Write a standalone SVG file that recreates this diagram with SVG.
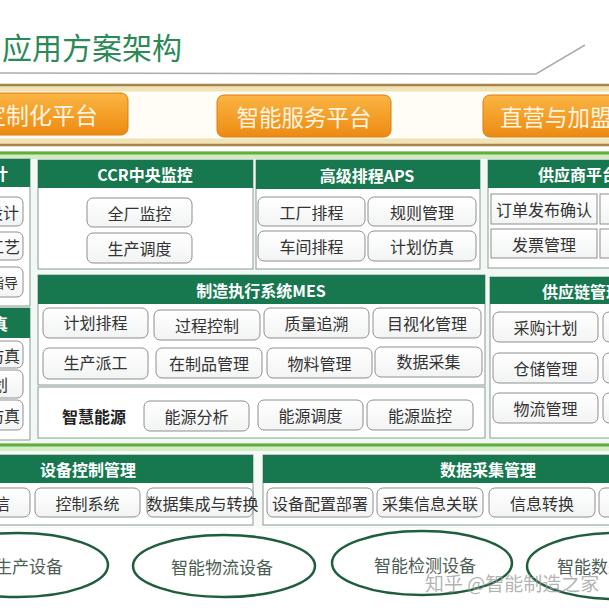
<svg xmlns="http://www.w3.org/2000/svg" width="609" height="608" viewBox="0 0 609 608">
<defs>
<linearGradient id="og" x1="0" y1="0" x2="0" y2="1">
<stop offset="0" stop-color="#fbb543"/>
<stop offset="1" stop-color="#ec8a12"/>
</linearGradient>
<linearGradient id="ig" x1="0" y1="0" x2="0" y2="1">
<stop offset="0" stop-color="#ffffff"/>
<stop offset="1" stop-color="#f2f4f3"/>
</linearGradient>
<style>
text{font-family:"Noto Sans CJK SC","Liberation Sans",sans-serif}
.panel{fill:#ffffff;stroke:#8c9a92;stroke-width:1}
.hdr{fill:#17774f}
.item{fill:url(#ig);stroke:#8e8e8e;stroke-width:1}
.ht{font-size:16px;font-weight:bold;fill:#ffffff;text-anchor:middle;dominant-baseline:central}
.it{font-size:16px;fill:#333333;text-anchor:middle;dominant-baseline:central}
.end{text-anchor:end}
.start{text-anchor:start}
.orange{fill:url(#og);stroke:#d97e0e;stroke-width:1}
.ot{font-size:22.5px;fill:#fff6e2;dominant-baseline:central}
.gold{stroke:#a5844a;stroke-width:2.5;fill:none}
.goldglow{stroke:#f1e3b6;stroke-width:7;fill:none}
.green{stroke:#5fae3e;stroke-width:3;fill:none}
.greenglow{stroke:#d3ecc6;stroke-width:8;fill:none}
.ell{fill:#ffffff;stroke:#1e5e3d;stroke-width:2.5}
.et{font-size:17px;fill:#4a5d53;dominant-baseline:central}
</style>
</defs>
<rect x="0" y="0" width="609" height="608" fill="#ffffff"/>

<g id="title">
<text x="2" y="46" font-size="30" fill="#2c8a55" dominant-baseline="central">应用方案架构</text>
<polyline points="0,73 536,74 585,45" fill="none" stroke="#a9aeab" stroke-width="1.5"/>
</g>

<g id="platform-band">
<rect x="0" y="86" width="609" height="59" fill="#fffdf6"/>
<line class="goldglow" x1="0" y1="88" x2="609" y2="88"/>
<line class="goldglow" x1="0" y1="142" x2="609" y2="142"/>
<line class="gold" x1="0" y1="85" x2="609" y2="85"/>
<line class="gold" x1="0" y1="145" x2="609" y2="145"/>
</g>

<g id="p-custom">
<rect class="orange" x="-20" y="93" width="148" height="42" rx="7"/>
<text class="ot" x="-17" y="114" style="font-size:23px">定制化平台</text>
</g>
<g id="p-service">
<rect class="orange" x="217" y="95" width="174" height="42" rx="7"/>
<text class="ot" x="304" y="116" text-anchor="middle">智能服务平台</text>
</g>
<g id="p-franchise">
<rect class="orange" x="483" y="95" width="160" height="42" rx="7"/>
<text class="ot" x="500" y="116">直营与加盟</text>
</g>

<g id="bands">
<rect x="0" y="155" width="609" height="289" fill="#f2f8f4"/>
<line class="greenglow" x1="0" y1="155" x2="609" y2="155"/>
<line class="green" x1="0" y1="153" x2="609" y2="153"/>
<rect x="0" y="448" width="609" height="80" fill="#f6faf7"/>
<line class="greenglow" x1="0" y1="447" x2="609" y2="447"/>
<line class="green" x1="0" y1="445" x2="609" y2="445"/>
</g>

<g id="col-design">
<rect class="panel" x="-10" y="159" width="40" height="147"/>
<rect class="hdr" x="-10" y="159" width="40" height="28"/>
<text class="ht end" x="8" y="173">研发设计</text>
<rect class="item" x="-60" y="197" width="83" height="29" rx="6"/>
<text class="it end" x="19" y="211.5">产品设计</text>
<rect class="item" x="-60" y="232" width="83" height="28" rx="6"/>
<text class="it end" x="20" y="246">数字化工艺</text>
<rect class="item" x="-60" y="267" width="83" height="30" rx="6"/>
<text class="it end" x="18" y="282" style="font-size:14px">作业指导</text>
</g>

<g id="col-sim">
<rect class="panel" x="-10" y="308" width="40" height="132"/>
<rect class="hdr" x="-10" y="308" width="40" height="30"/>
<text class="ht end" x="8" y="323">虚拟仿真</text>
<rect class="item" x="-60" y="341" width="83" height="27" rx="6"/>
<text class="it end" x="20" y="354.5">工艺仿真</text>
<rect class="item" x="-60" y="370" width="83" height="28" rx="6"/>
<text class="it end" x="8" y="384">布局规划</text>
<rect class="item" x="-60" y="400" width="83" height="30" rx="6"/>
<text class="it end" x="20" y="415">物流仿真</text>
</g>

<g id="ccr">
<rect class="panel" x="38" y="160" width="215" height="109"/>
<rect class="hdr" x="38" y="160" width="215" height="28"/>
<text class="ht" x="145" y="174">CCR中央监控</text>
<rect class="item" x="87" y="198" width="105" height="29" rx="6"/>
<text class="it" x="139.5" y="212.5">全厂监控</text>
<rect class="item" x="87" y="233" width="105" height="30" rx="6"/>
<text class="it" x="139.5" y="248">生产调度</text>
</g>

<g id="aps">
<rect class="panel" x="256" y="160" width="224" height="109"/>
<rect class="hdr" x="256" y="160" width="224" height="29"/>
<text class="ht" x="367" y="174.5">高级排程APS</text>
<rect class="item" x="258" y="197" width="107" height="29" rx="6"/>
<text class="it" x="311.5" y="211.5">工厂排程</text>
<rect class="item" x="368" y="197" width="108" height="29" rx="6"/>
<text class="it" x="422" y="211.5">规则管理</text>
<rect class="item" x="258" y="231" width="107" height="30" rx="6"/>
<text class="it" x="311.5" y="246">车间排程</text>
<rect class="item" x="368" y="231" width="108" height="30" rx="6"/>
<text class="it" x="422" y="246">计划仿真</text>
</g>

<g id="supplier">
<rect class="panel" x="488" y="160" width="140" height="108"/>
<rect class="hdr" x="488" y="160" width="140" height="28"/>
<text class="ht start" x="538" y="174">供应商平台</text>
<rect class="item" x="491" y="194" width="106" height="30"/>
<text class="it" x="544" y="209">订单发布确认</text>
<rect class="item" x="600" y="194" width="40" height="30"/>
<rect class="item" x="491" y="229" width="106" height="29"/>
<text class="it" x="544" y="243.5">发票管理</text>
<rect class="item" x="600" y="229" width="40" height="29"/>
</g>

<g id="mes">
<rect class="panel" x="38" y="275" width="447" height="110"/>
<rect class="hdr" x="38" y="275" width="447" height="29"/>
<text class="ht" x="261" y="289.5">制造执行系统MES</text>
<rect class="item" x="43" y="308" width="105" height="30" rx="6"/>
<text class="it" x="95.5" y="322">计划排程</text>
<rect class="item" x="154" y="310" width="106" height="30" rx="6"/>
<text class="it" x="207" y="325">过程控制</text>
<rect class="item" x="264" y="308" width="105" height="30" rx="6"/>
<text class="it" x="316.5" y="323">质量追溯</text>
<rect class="item" x="373" y="308" width="108" height="30" rx="6"/>
<text class="it" x="427" y="323">目视化管理</text>
<rect class="item" x="43" y="348" width="105" height="31" rx="6"/>
<text class="it" x="95.5" y="362">生产派工</text>
<rect class="item" x="156" y="348" width="106" height="30" rx="6"/>
<text class="it" x="209" y="363">在制品管理</text>
<rect class="item" x="267" y="348" width="105" height="30" rx="6"/>
<text class="it" x="319.5" y="363">物料管理</text>
<rect class="item" x="375" y="347" width="107" height="30" rx="6"/>
<text class="it" x="428.5" y="361">数据采集</text>
</g>

<g id="energy">
<rect class="panel" x="38" y="387" width="447" height="51"/>
<text class="it" x="94" y="416" style="font-weight:bold;fill:#222222">智慧能源</text>
<rect class="item" x="144" y="401" width="105" height="30" rx="6"/>
<text class="it" x="196.5" y="416">能源分析</text>
<rect class="item" x="258" y="400" width="105" height="30" rx="6"/>
<text class="it" x="310.5" y="415">能源调度</text>
<rect class="item" x="367" y="400" width="106" height="30" rx="6"/>
<text class="it" x="420" y="415">能源监控</text>
</g>

<g id="supply-chain">
<rect class="panel" x="490" y="277" width="140" height="161"/>
<rect class="hdr" x="490" y="277" width="140" height="27"/>
<text class="ht start" x="542" y="290.5">供应链管理</text>
<rect class="item" x="493" y="312" width="105" height="30" rx="6"/>
<text class="it" x="545.5" y="327">采购计划</text>
<rect class="item" x="603" y="312" width="40" height="30" rx="6"/>
<rect class="item" x="493" y="353" width="105" height="30" rx="6"/>
<text class="it" x="545.5" y="368">仓储管理</text>
<rect class="item" x="603" y="353" width="40" height="30" rx="6"/>
<rect class="item" x="493" y="393" width="105" height="30" rx="6"/>
<text class="it" x="545.5" y="408">物流管理</text>
<rect class="item" x="603" y="393" width="40" height="30" rx="6"/>
</g>

<g id="device-control">
<rect class="panel" x="-77" y="455" width="330" height="70"/>
<rect class="hdr" x="-77" y="455" width="330" height="28"/>
<text class="ht" x="88" y="469">设备控制管理</text>
<rect class="item" x="-75" y="488" width="105" height="29" rx="6"/>
<text class="it end" x="10" y="502.5">网络通信</text>
<rect class="item" x="35" y="488" width="105" height="29" rx="6"/>
<text class="it" x="87.5" y="502.5">控制系统</text>
<rect class="item" x="147" y="488" width="106" height="29" rx="6"/>
<text class="it" x="202.5" y="502.5">数据集成与转换</text>
</g>

<g id="data-collection">
<rect class="panel" x="263" y="455" width="450" height="70"/>
<rect class="hdr" x="263" y="455" width="450" height="28"/>
<text class="ht" x="488" y="469">数据采集管理</text>
<rect class="item" x="267" y="488" width="106" height="29" rx="6"/>
<text class="it" x="320" y="502.5">设备配置部署</text>
<rect class="item" x="377" y="488" width="106" height="29" rx="6"/>
<text class="it" x="430" y="502.5">采集信息关联</text>
<rect class="item" x="489" y="488" width="106" height="29" rx="6"/>
<text class="it" x="542" y="502.5">信息转换</text>
<rect class="item" x="599" y="488" width="40" height="29" rx="6"/>
</g>

<g id="e-production">
<ellipse class="ell" cx="18" cy="565" rx="90" ry="32"/>
<text class="et" x="63" y="565" text-anchor="end">智能生产设备</text>
</g>
<g id="e-logistics">
<ellipse class="ell" cx="224" cy="566" rx="91" ry="31"/>
<text class="et" x="222" y="566" text-anchor="middle">智能物流设备</text>
</g>
<g id="e-inspection">
<ellipse class="ell" cx="422" cy="563" rx="90" ry="32"/>
<text class="et" x="425" y="564" text-anchor="middle">智能检测设备</text>
</g>
<g id="e-data">
<ellipse class="ell" cx="617" cy="566" rx="90" ry="33"/>
<text class="et" x="557" y="565">智能数采设备</text>
</g>

<g id="connectors"></g>

<g id="watermark">
<text x="425" y="582" font-size="19" fill="#9a9a9a" fill-opacity="0.75" dominant-baseline="central">知乎 @智能制造之家</text>
</g>
</svg>
